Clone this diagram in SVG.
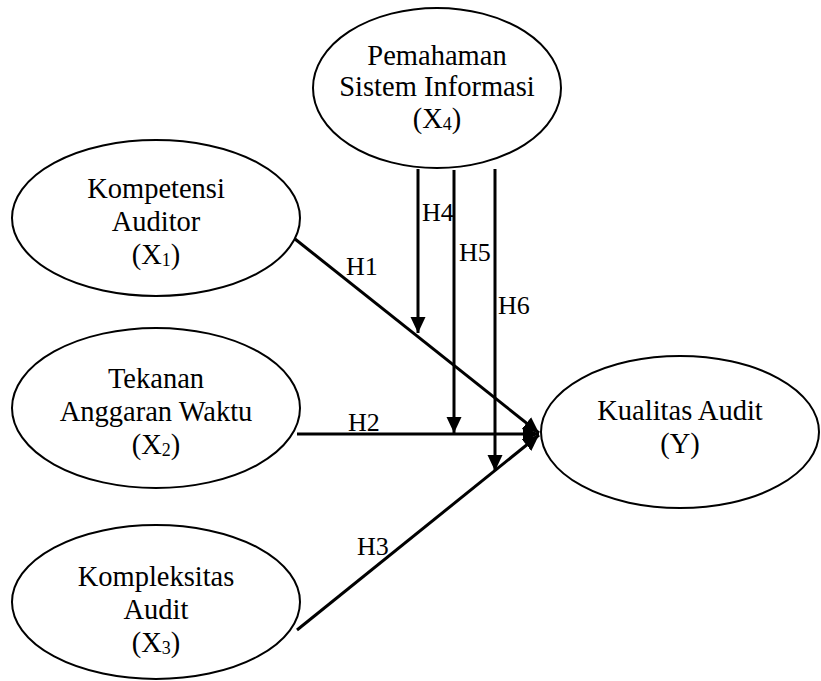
<svg xmlns="http://www.w3.org/2000/svg" width="821" height="681" viewBox="0 0 821 681" font-family="Liberation Serif, Times New Roman, serif">
<style>
.node ellipse{fill:#fff;stroke:#000;stroke-width:2}
text{font-family:'Liberation Serif','Times New Roman',serif;fill:#000}
.nt{font-size:28.5px;text-anchor:middle}
.lbl{font-size:26px}
.sub{font-size:18px}
.edge{stroke:#000;stroke-width:3;fill:none}
</style>
<defs>
<marker id="ah" markerUnits="userSpaceOnUse" markerWidth="17" markerHeight="16" refX="16" refY="7.5" orient="auto">
<path d="M0,0 L16,7.5 L0,15 Z" fill="#000"/>
</marker>
</defs>
<rect width="821" height="681" fill="#fff"/>
<g id="connectors">
<line class="edge" x1="295" y1="239" x2="539" y2="433" marker-end="url(#ah)"/>
<line class="edge" x1="297" y1="434" x2="539" y2="434" marker-end="url(#ah)"/>
<line class="edge" x1="297" y1="630" x2="539" y2="435" marker-end="url(#ah)"/>
<line class="edge" x1="418" y1="169" x2="418" y2="333" marker-end="url(#ah)"/>
<line class="edge" x1="454" y1="170" x2="454" y2="433" marker-end="url(#ah)"/>
<line class="edge" x1="495" y1="169" x2="495" y2="471" marker-end="url(#ah)"/>
<text class="lbl" x="346" y="275">H1</text>
<text class="lbl" x="348" y="431">H2</text>
<text class="lbl" x="357" y="555">H3</text>
<text class="lbl" x="422" y="221">H4</text>
<text class="lbl" x="459" y="261">H5</text>
<text class="lbl" x="498" y="314">H6</text>
</g>
<g id="x4" class="node">
<ellipse cx="437" cy="88" rx="124" ry="80"/>
<text class="nt" x="437" y="65">Pemahaman</text>
<text class="nt" x="437" y="96">Sistem Informasi</text>
<text class="nt" x="437" y="128">(X<tspan class="sub" dy="2">4</tspan><tspan dy="-2">)</tspan></text>
</g>
<g id="x1" class="node">
<ellipse cx="156" cy="218" rx="144" ry="78"/>
<text class="nt" x="156" y="198">Kompetensi</text>
<text class="nt" x="156" y="231">Auditor</text>
<text class="nt" x="156" y="264">(X<tspan class="sub" dy="2">1</tspan><tspan dy="-2">)</tspan></text>
</g>
<g id="x2" class="node">
<ellipse cx="156" cy="408" rx="144" ry="80"/>
<text class="nt" x="156" y="388">Tekanan</text>
<text class="nt" x="156" y="421">Anggaran Waktu</text>
<text class="nt" x="156" y="454">(X<tspan class="sub" dy="2">2</tspan><tspan dy="-2">)</tspan></text>
</g>
<g id="x3" class="node">
<ellipse cx="156" cy="602" rx="144" ry="77"/>
<text class="nt" x="156" y="586">Kompleksitas</text>
<text class="nt" x="156" y="619">Audit</text>
<text class="nt" x="156" y="652">(X<tspan class="sub" dy="2">3</tspan><tspan dy="-2">)</tspan></text>
</g>
<g id="y" class="node">
<ellipse cx="680" cy="432" rx="139" ry="76"/>
<text class="nt" x="680" y="420">Kualitas Audit</text>
<text class="nt" x="680" y="453">(Y)</text>
</g>
</svg>
